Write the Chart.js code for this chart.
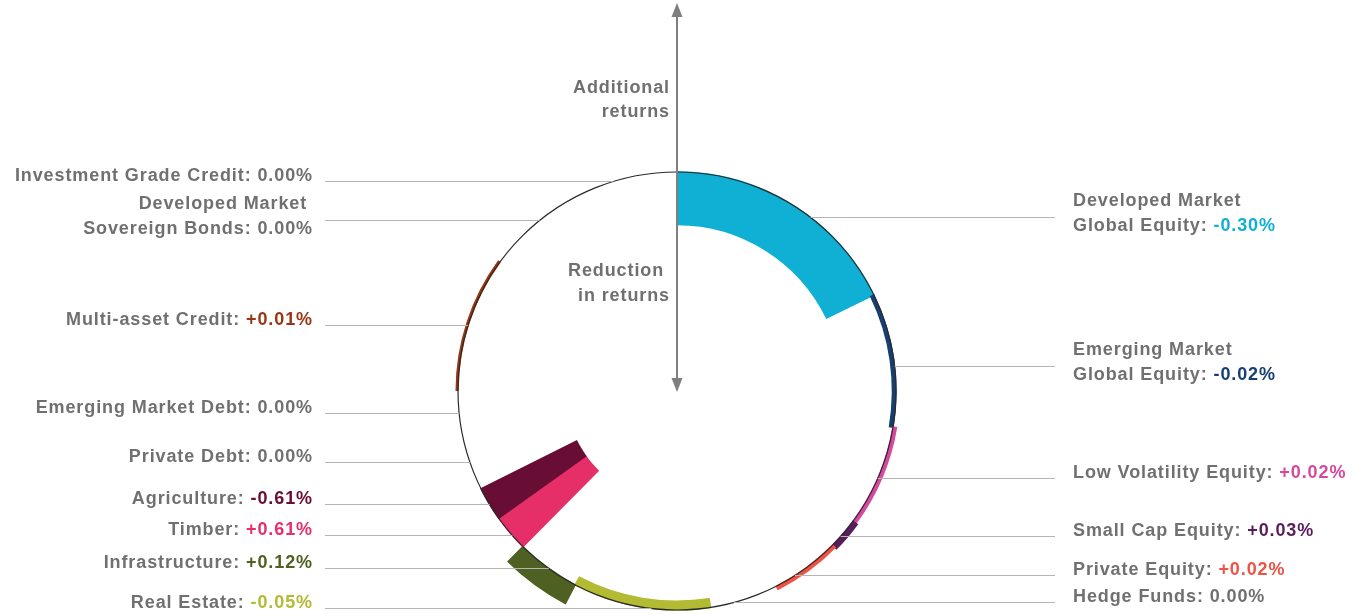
<!DOCTYPE html>
<html lang="en">
<head>
    <meta charset="UTF-8">
    <title>Return impact by asset class</title>
    <script src="https://cdn.jsdelivr.net/npm/chart.js"></script>
    <style>
        body {
            margin: 0;
            padding: 0;
            background: #fff;
        }

        .chart-container {
            position: relative;
            width: 1354px;
            height: 614px;
        }
    </style>
</head>
<body>

    <div class="chart-container">
        <canvas id="returnsChart"></canvas>
    </div>

    <script>
        // Asset classes, clockwise from the top of the circle
        const categories = [
            'Developed Market\nGlobal Equity',
            'Emerging Market\nGlobal Equity',
            'Low Volatility Equity',
            'Small Cap Equity',
            'Private Equity',
            'Hedge Funds',
            'Real Estate',
            'Infrastructure',
            'Timber',
            'Agriculture',
            'Private Debt',
            'Emerging Market Debt',
            'Multi-asset Credit',
            'Developed Market \nSovereign Bonds',
            'Investment Grade Credit'
        ];

        // Change in returns (%) as printed in the labels
        const values = [-0.30, -0.02, 0.02, 0.03, 0.02, 0.00, -0.05, 0.12, 0.61, -0.61, 0.00, 0.00, 0.01, 0.00, 0.00];

        // Side of the circle each bar is drawn on (1 = outward, -1 = inward); timber is drawn inward in the source
        const side = [-1, -1, 1, 1, 1, 1, -1, 1, -1, -1, 1, 1, 1, 1, 1];

        // Share of the circle taken by each asset class (degrees)
        const sweep = [64, 35.5, 27, 8.2, 18.3, 18.2, 36.5, 17, 9.8, 9, 15, 11.7, 35.8, 30.4, 23.6];

        const colors = ['#0fb0d3', '#173f72', '#d6499e', '#5a1d5c', '#ee5346', '#747474', '#b3bb33',
                        '#4e6123', '#e62f69', '#680d33', '#747474', '#747474', '#9a3613', '#747474', '#747474'];

        const plotted = values.map((v, i) => Math.abs(v) * side[i]);

        const textGrey = '#707070';
        const font = 'bold 18px "Liberation Sans", Arial, sans-serif';

        // small vertical nudges so the callouts sit where the source put them
        const leaderShift = [12, 6, 1, 2, 7, 3, 1, 0, 2, 0, 0, 0, 2, 0, 4];

        function fmt(v) {
            if (v === 0) return '0.00%';
            return (v > 0 ? '+' : '-') + Math.abs(v).toFixed(2) + '%';
        }

        // bars sit between the circle (value 0) and their value
        const annulus = {
            id: 'annulus',
            afterDatasetUpdate(chart, args) {
                const scale = chart.scales.r;
                args.meta.data.forEach((arc, i) => {
                    arc.innerRadius = scale.getDistanceFromCenterForValue(Math.min(plotted[i], 0));
                });
            }
        };

        const callouts = {
            id: 'callouts',
            afterDraw(chart) {
                const ctx = chart.ctx;
                const scale = chart.scales.r;
                const cx = scale.xCenter, cy = scale.yCenter;
                const R = scale.getDistanceFromCenterForValue(0);
                const arcs = chart.getDatasetMeta(0).data;

                ctx.save();
                ctx.font = font;
                ctx.letterSpacing = '0.9px';
                ctx.textBaseline = 'middle';
                ctx.textAlign = 'left';

                arcs.forEach((arc, i) => {
                    const mid = (arc.startAngle + arc.endAngle) / 2;
                    const right = Math.cos(mid) > 0;
                    const y = Math.round(cy + R * Math.sin(mid) + leaderShift[i]) + 0.5;
                    const dx = Math.sqrt(Math.max(R * R - (y - cy) * (y - cy), 0));
                    const xEdge = right ? cx + dx : cx - dx;

                    ctx.strokeStyle = '#b5b5b5';
                    ctx.lineWidth = 1;
                    ctx.beginPath();
                    ctx.moveTo(right ? 1055 : 325, y);
                    ctx.lineTo(xEdge, y);
                    ctx.stroke();

                    const lines = categories[i].split('\n');
                    const valText = fmt(values[i]);
                    const valColor = values[i] === 0 ? textGrey : colors[i];
                    const first = lines.length > 1 ? y - 16 : y - 5;

                    lines.forEach((line, j) => {
                        const ty = first + j * 25;
                        const isLast = j === lines.length - 1;
                        const head = isLast ? line + ': ' : line;
                        const headW = ctx.measureText(head).width;
                        const valW = isLast ? ctx.measureText(valText).width : 0;
                        const x0 = right ? 1073 : 313 - headW - valW;
                        ctx.fillStyle = textGrey;
                        ctx.fillText(head, x0, ty);
                        if (isLast) {
                            ctx.fillStyle = valColor;
                            ctx.fillText(valText, x0 + headW, ty);
                        }
                    });
                });

                // returns arrow through the top of the circle
                ctx.strokeStyle = '#7f7f7f';
                ctx.fillStyle = '#7f7f7f';
                ctx.lineWidth = 2;
                ctx.beginPath();
                ctx.moveTo(cx, 14);
                ctx.lineTo(cx, cy - 12);
                ctx.stroke();
                ctx.beginPath();
                ctx.moveTo(cx, 3);
                ctx.lineTo(cx - 5.5, 17);
                ctx.lineTo(cx + 5.5, 17);
                ctx.closePath();
                ctx.fill();
                ctx.beginPath();
                ctx.moveTo(cx, cy + 1);
                ctx.lineTo(cx - 5.5, cy - 13);
                ctx.lineTo(cx + 5.5, cy - 13);
                ctx.closePath();
                ctx.fill();

                ctx.fillStyle = textGrey;
                ctx.textAlign = 'right';
                ctx.fillText('Additional', cx - 7, 88);
                ctx.fillText('returns', cx - 7, 112);
                ctx.fillText('Reduction ', cx - 7, 271);
                ctx.fillText('in returns', cx - 7, 296);
                ctx.restore();
            }
        };

        const ctx = document.getElementById('returnsChart').getContext('2d');
        const fills = values.map((v, i) => v === 0 ? 'rgba(0,0,0,0)' : colors[i]);

        const returnsChart = new Chart(ctx, {
            type: 'polarArea',
            data: {
                labels: categories,
                datasets: [{
                    data: plotted.map(v => Math.max(v, 0)),
                    backgroundColor: fills,
                    borderColor: fills,
                    borderWidth: 1.5,
                    borderJoinStyle: 'miter',
                    angle: sweep,
                    clip: false
                }]
            },
            options: {
                responsive: true,
                maintainAspectRatio: false,
                animation: false,
                layout: {
                    padding: { top: 168, bottom: 0, left: 0, right: 0 }
                },
                plugins: {
                    legend: { display: false },
                    tooltip: { enabled: false }
                },
                scales: {
                    r: {
                        min: -1.25,
                        max: 0.0228,
                        ticks: { display: false },
                        angleLines: { display: false },
                        pointLabels: { display: false },
                        grid: {
                            circular: true,
                            color: '#2a2a2a',
                            lineWidth: 1.2,
                            z: 1
                        },
                        afterBuildTicks: function (scale) {
                            // only the zero circle is drawn
                            scale.ticks = [{ value: 0 }];
                        }
                    }
                }
            },
            plugins: [annulus, callouts]
        });
    </script>
</body>
</html>
